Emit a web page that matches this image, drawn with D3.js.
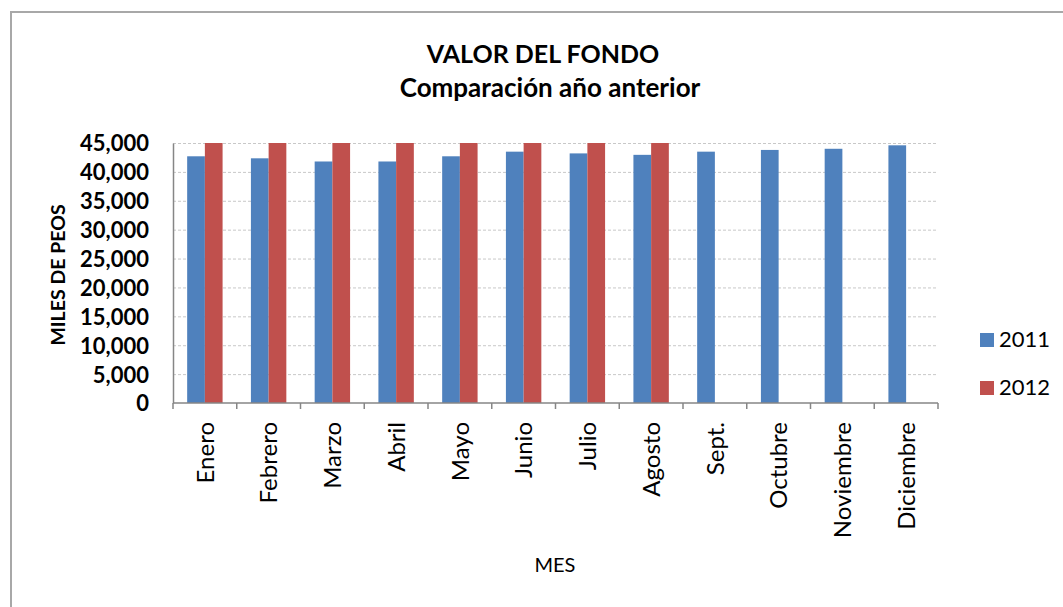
<!DOCTYPE html>
<meta charset="utf-8">
<style>
body {
  margin: 0;
  background-color: #ffffff;
}
svg text {
  font-family: Lato, "Open Sans", sans-serif;
  fill: #000;
}
.axis path,
.axis line {
  fill: none;
  stroke: #868686;
  stroke-width: 1.5px;
}
.grid line {
  stroke: #c8c8c8;
  stroke-width: 1px;
  stroke-dasharray: 3,2;
}
.grid path {
  display: none;
}
</style>
<svg width="1063" height="607"></svg>
<script src="https://d3js.org/d3.v7.min.js"></script>
<script>
// data
var months = ["Enero", "Febrero", "Marzo", "Abril", "Mayo", "Junio", "Julio", "Agosto", "Sept.", "Octubre", "Noviembre", "Diciembre"];
var series = ["2011", "2012"];
var values2011 = [42700, 42350, 41800, 41800, 42700, 43500, 43200, 42950, 43500, 43800, 44000, 44600];
var values2012 = [45000, 45000, 45000, 45000, 45000, 45000, 45000, 45000, null, null, null, null];
var yTicks = [0, 5000, 10000, 15000, 20000, 25000, 30000, 35000, 40000, 45000];
var colors = ["#4F81BD", "#C0504D"];

var svg = d3.select("svg");
var margin = {top: 143, left: 173},
    width = 765,
    height = 260;

// outer frame of the chart (runs off the right and bottom edges)
svg.append("rect")
  .attr("x", 11).attr("y", 12)
  .attr("width", 1080).attr("height", 620)
  .attr("fill", "#fff")
  .attr("stroke", "#a8a8a8")
  .attr("stroke-width", 2);

svg.append("text")
  .attr("x", 543).attr("y", 63)
  .attr("text-anchor", "middle")
  .style("font-size", "25px").style("font-weight", "bold")
  .text("VALOR DEL FONDO");
svg.append("text")
  .attr("x", 550).attr("y", 97)
  .attr("text-anchor", "middle")
  .style("font-size", "26px").style("font-weight", "bold")
  .text("Comparación año anterior");

var x0 = d3.scaleBand().domain(months).range([0, width]).padding(0);
var x1 = d3.scaleBand().domain(series).range([0, x0.bandwidth()]).paddingInner(0).paddingOuter(0.8);
var y = d3.scaleLinear().domain([0, 45000]).range([height, 0]);

var g = svg.append("g")
  .attr("transform", "translate(" + margin.left + "," + margin.top + ")");

g.append("g")
  .attr("class", "grid")
  .call(d3.axisLeft(y).tickValues(yTicks.slice(1)).tickSize(-width).tickFormat(""));

var rows = months.map(function(m, i) {
  return {month: m, vals: [values2011[i], values2012[i]]};
});

var grp = g.selectAll(".grp")
  .data(rows)
  .enter().append("g")
  .attr("transform", function(d) { return "translate(" + x0(d.month) + ",0)"; });

grp.selectAll("rect")
  .data(function(d) {
    return series.map(function(s, k) { return {s: s, k: k, v: d.vals[k]}; })
      .filter(function(e) { return e.v != null; });
  })
  .enter().append("rect")
  .attr("x", function(d) { return x1(d.s); })
  .attr("width", x1.bandwidth())
  .attr("y", function(d) { return y(d.v); })
  .attr("height", function(d) { return height - y(d.v); })
  .attr("fill", function(d) { return colors[d.k]; });

// y axis
var yAxis = g.append("g")
  .attr("class", "axis")
  .call(d3.axisLeft(y).tickValues(yTicks).tickSize(0).tickPadding(24).tickFormat(d3.format(",")));
yAxis.selectAll("text")
  .style("font-size", "22px").style("font-weight", "bold")
  .attr("dy", "0.36em");

// x axis with ticks at category boundaries
var xAxis = g.append("g")
  .attr("class", "axis")
  .attr("transform", "translate(0," + height + ")");
xAxis.append("line")
  .attr("x1", 0).attr("x2", width);
xAxis.selectAll(".tk")
  .data(months.concat(["_end"]))
  .enter().append("line")
  .attr("class", "tk")
  .attr("x1", function(d, i) { return i * x0.step(); })
  .attr("x2", function(d, i) { return i * x0.step(); })
  .attr("y1", 0).attr("y2", 6);
xAxis.selectAll(".lbl")
  .data(months)
  .enter().append("text")
  .attr("class", "lbl")
  .attr("transform", function(d) {
    return "translate(" + (x0(d) + x0.bandwidth() / 2) + ",19) rotate(-90)";
  })
  .attr("text-anchor", "end")
  .attr("dy", "0.36em")
  .style("font-size", "24px")
  .text(function(d) { return d; });

// axis titles
svg.append("text")
  .attr("transform", "translate(58,275) rotate(-90)")
  .attr("text-anchor", "middle")
  .attr("dy", "0.36em")
  .style("font-size", "19.5px").style("font-weight", "bold")
  .text("MILES DE PEOS");
svg.append("text")
  .attr("x", 555).attr("y", 572)
  .attr("text-anchor", "middle")
  .style("font-size", "20px")
  .text("MES");

// legend
var leg = svg.selectAll(".leg")
  .data(series)
  .enter().append("g")
  .attr("class", "leg")
  .attr("transform", function(d, i) { return "translate(980," + (333 + i * 48) + ")"; });
leg.append("rect")
  .attr("width", 14).attr("height", 14)
  .attr("fill", function(d, i) { return colors[i]; });
leg.append("text")
  .attr("x", 19).attr("y", 14)
  .style("font-size", "22px")
  .text(function(d) { return d; });
</script>
